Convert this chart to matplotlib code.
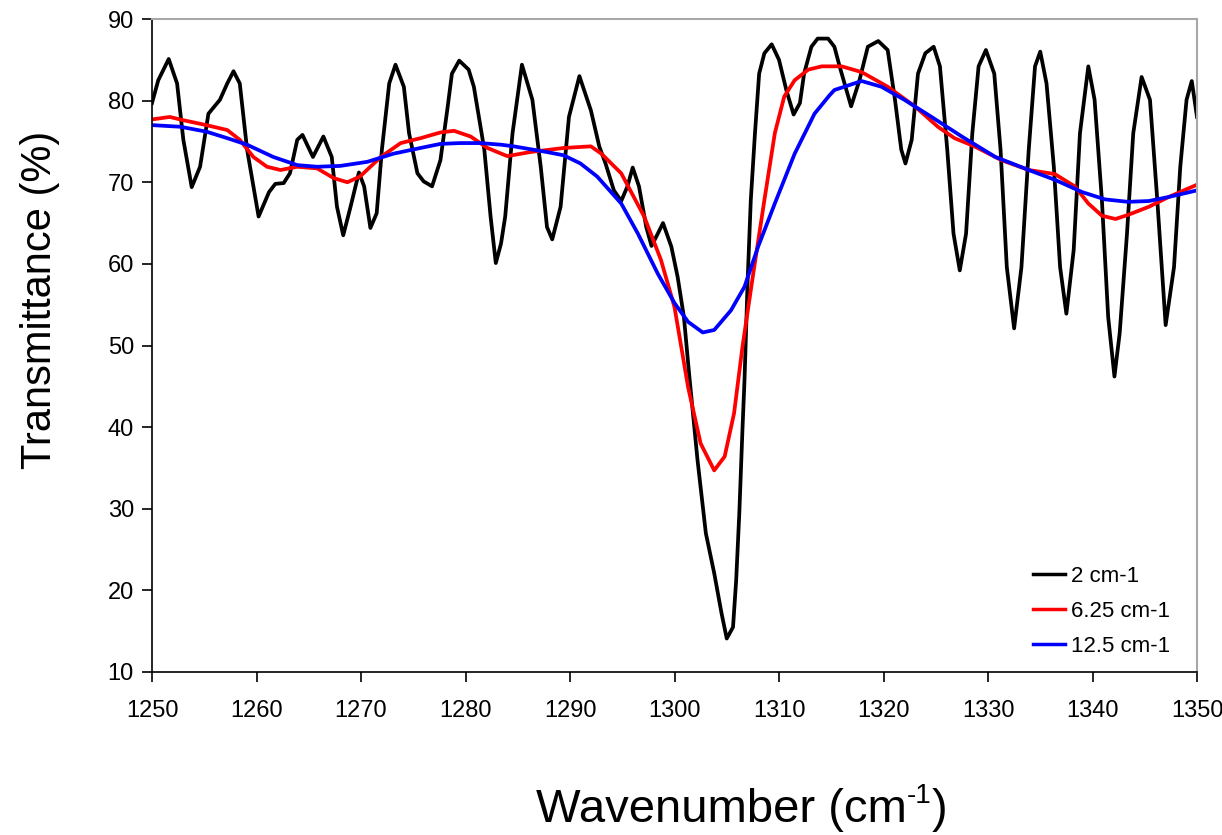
import matplotlib
matplotlib.use('Agg')
import matplotlib.pyplot as plt

plt.rcParams['font.family'] = ['Liberation Sans', 'DejaVu Sans']

# 2 cm-1 resolution spectrum
wn_2 = [1250.0, 1250.6, 1251.6, 1252.4, 1253.0, 1253.8, 1254.6, 1255.4, 1256.5, 1257.2,
        1257.8, 1258.4, 1259.1, 1260.2, 1261.2, 1261.8, 1262.6, 1263.2, 1263.9, 1264.4,
        1265.4, 1266.4, 1267.2, 1267.7, 1268.3, 1269.0, 1269.8, 1270.3, 1270.9, 1271.5,
        1272.0, 1272.7, 1273.3, 1274.1, 1274.6, 1275.4, 1276.0, 1276.8, 1277.6, 1278.3,
        1278.7, 1279.4, 1280.3, 1280.8, 1281.8, 1282.4, 1282.9, 1283.4, 1283.8, 1284.5,
        1285.4, 1286.4, 1287.2, 1287.8, 1288.3, 1289.1, 1289.9, 1290.9, 1292.0, 1292.8,
        1293.4, 1294.2, 1294.9, 1295.5, 1296.0, 1296.6, 1297.3, 1297.8, 1298.4, 1298.9,
        1299.7, 1300.3, 1300.9, 1301.4, 1302.2, 1303.0, 1303.8, 1304.5, 1305.0, 1305.6,
        1305.9, 1306.2, 1306.5, 1306.7, 1306.9, 1307.0, 1307.3, 1307.7, 1308.1, 1308.6,
        1309.3, 1310.0, 1310.7, 1311.4, 1312.0, 1312.4, 1313.1, 1313.7, 1314.7, 1315.3,
        1315.8, 1316.9, 1317.7, 1318.5, 1319.5, 1320.4, 1321.1, 1321.7, 1322.1, 1322.7,
        1323.3, 1324.0, 1324.8, 1325.4, 1326.1, 1326.7, 1327.3, 1327.9, 1328.5, 1329.1,
        1329.8, 1330.6, 1331.2, 1331.8, 1332.5, 1333.2, 1333.9, 1334.5, 1335.0, 1335.6,
        1336.3, 1336.9, 1337.5, 1338.2, 1338.8, 1339.6, 1340.2, 1340.9, 1341.5, 1342.1,
        1342.6, 1343.3, 1343.9, 1344.7, 1345.5, 1346.2, 1347.0, 1347.8, 1348.4, 1349.0,
        1349.5, 1350.0]
tr_2 = [79.7, 82.5, 85.1, 82.1, 75.2, 69.4, 71.9, 78.4, 80.1, 82.1,
        83.6, 82.1, 74.0, 65.8, 68.8, 69.8, 69.9, 71.1, 75.2, 75.8,
        73.1, 75.6, 73.1, 67.0, 63.5, 67.0, 71.2, 69.5, 64.4, 66.2,
        74.0, 82.1, 84.4, 81.7, 76.0, 71.1, 70.1, 69.5, 72.7, 79.3,
        83.3, 84.9, 83.8, 81.7, 74.0, 65.8, 60.1, 62.5, 65.8, 76.0,
        84.4, 80.1, 71.9, 64.5, 63.0, 67.0, 78.0, 83.0, 78.8, 74.4,
        72.3, 69.0, 67.7, 69.5, 71.8, 69.5, 64.5, 62.2, 63.7, 65.0,
        62.1, 58.4, 53.5, 46.5, 36.0, 27.0, 22.1, 17.2, 14.1, 15.5,
        21.2, 29.4, 39.6, 45.8, 53.9, 58.0, 67.8, 76.0, 83.3, 85.8,
        86.9, 85.0, 81.3, 78.3, 79.7, 83.3, 86.6, 87.6, 87.6, 86.6,
        84.2, 79.3, 82.5, 86.6, 87.3, 86.2, 80.1, 74.0, 72.3, 75.2,
        83.3, 85.8, 86.6, 84.2, 74.0, 63.7, 59.2, 63.7, 76.0, 84.2,
        86.2, 83.3, 74.0, 59.6, 52.1, 59.6, 74.0, 84.2, 86.0, 82.1,
        71.9, 59.6, 53.9, 61.7, 76.0, 84.2, 80.1, 67.8, 53.5, 46.2,
        51.5, 63.7, 76.0, 82.9, 80.1, 67.8, 52.5, 59.6, 71.9, 80.1,
        82.4, 78.0]

# 6.25 cm-1 resolution
wn_625 = [1250.0, 1251.7, 1253.0, 1255.2, 1257.2, 1258.4, 1259.7, 1261.0, 1262.3, 1263.9,
          1265.8, 1267.4, 1268.7, 1269.9, 1271.9, 1273.8, 1275.7, 1277.6, 1278.9, 1280.5,
          1282.1, 1284.0, 1286.2, 1289.4, 1292.0, 1293.0, 1294.9, 1297.1, 1298.7, 1300.0,
          1301.3, 1302.5, 1303.8, 1304.8, 1305.7, 1306.5, 1307.5, 1308.6, 1309.6, 1310.5,
          1311.5, 1312.8, 1314.1, 1316.0, 1317.9, 1320.4, 1323.0, 1325.2, 1326.8, 1328.7,
          1331.3, 1333.9, 1336.4, 1338.3, 1339.6, 1340.9, 1342.2, 1343.4, 1345.4, 1347.3,
          1350.0]
tr_625 = [77.7, 78.0, 77.6, 77.0, 76.4, 75.2, 73.1, 71.9, 71.5, 71.9,
          71.7, 70.5, 70.0, 70.7, 73.1, 74.8, 75.4, 76.1, 76.3, 75.6,
          74.2, 73.2, 73.7, 74.2, 74.4, 73.5, 71.1, 65.8, 60.5, 54.7,
          44.9, 38.0, 34.7, 36.4, 41.7, 49.8, 58.5, 67.8, 76.0, 80.5,
          82.5, 83.8, 84.2, 84.2, 83.5, 81.7, 79.3, 76.8, 75.4, 74.4,
          72.7, 71.5, 71.0, 69.5, 67.4, 65.9, 65.5, 66.0, 67.0, 68.2,
          69.7]

# 12.5 cm-1 resolution
wn_125 = [1250.0, 1252.7, 1255.2, 1257.2, 1259.1, 1261.6, 1263.9, 1265.8, 1268.0, 1270.6,
          1273.1, 1275.7, 1277.6, 1279.5, 1281.4, 1283.4, 1284.6, 1287.8, 1289.4, 1291.0,
          1292.6, 1294.9, 1296.5, 1298.4, 1300.0, 1301.3, 1302.7, 1303.8, 1305.4, 1306.7,
          1308.0, 1309.6, 1311.5, 1313.4, 1314.8, 1315.3, 1317.9, 1319.8, 1322.0, 1324.6,
          1327.5, 1330.7, 1333.9, 1336.4, 1339.0, 1341.2, 1343.4, 1345.4, 1347.3, 1350.0]
tr_125 = [77.0, 76.8, 76.2, 75.4, 74.6, 73.1, 72.1, 71.9, 72.0, 72.5,
          73.5, 74.2, 74.7, 74.8, 74.8, 74.6, 74.4, 73.7, 73.3, 72.3,
          70.7, 67.4, 63.7, 58.8, 55.2, 52.9, 51.6, 51.9, 54.3, 57.2,
          62.1, 67.4, 73.5, 78.4, 80.6, 81.3, 82.4, 81.7, 80.1, 78.0,
          75.6, 73.1, 71.5, 70.3, 68.8, 67.9, 67.6, 67.7, 68.2, 69.0]

labels = ['2 cm-1', '6.25 cm-1', '12.5 cm-1']
colors = ['black', '#ff0000', '#0000ff']

fig = plt.figure(figsize=(12.22, 8.35), dpi=100)
ax = fig.add_axes([152 / 1222, 1 - 672 / 835, (1197 - 152) / 1222, (672 - 19) / 835])

lw = 2.7
ax.plot(wn_2, tr_2, color=colors[0], lw=lw, label=labels[0], solid_joinstyle='round')
ax.plot(wn_625, tr_625, color=colors[1], lw=lw, label=labels[1], solid_joinstyle='round')
ax.plot(wn_125, tr_125, color=colors[2], lw=lw, label=labels[2], solid_joinstyle='round')

ax.set_xlim(1250, 1350)
ax.set_ylim(10, 90)
ax.set_xticks(range(1250, 1351, 10))
ax.set_yticks(range(10, 91, 10))
ax.tick_params(direction='out', length=7, width=1.2, labelsize=17)
ax.tick_params(axis='x', pad=13)
ax.tick_params(axis='y', pad=6)

for s in ['top', 'right']:
    ax.spines[s].set_color('#a8a8a8')
    ax.spines[s].set_linewidth(1.5)
for s in ['left', 'bottom']:
    ax.spines[s].set_color('black')
    ax.spines[s].set_linewidth(1.2)

leg = ax.legend(loc='upper left', bbox_to_anchor=(1033 / 1222, 1 - 566 / 835),
                bbox_transform=fig.transFigure, frameon=False, fontsize=16,
                handlelength=1.45, handletextpad=0.25, labelspacing=0.62,
                borderpad=0, borderaxespad=0)
for h in leg.get_lines():
    h.set_linewidth(2.5)

fig.text(40 / 1222, 1 - 300 / 835, 'Transmittance (%)', rotation=90,
         ha='center', va='center', fontsize=30)

# x label with a small raised "-1"
renderer = fig.canvas.get_renderer()
base_y = 1 - 822 / 835
t1 = fig.text(0, base_y, 'Wavenumber (cm', fontsize=34, va='baseline')
t2 = fig.text(0, 1 - 803 / 835, '-1', fontsize=20, va='baseline')
t3 = fig.text(0, base_y, ')', fontsize=34, va='baseline')
w1 = t1.get_window_extent(renderer).width
w2 = t2.get_window_extent(renderer).width
w3 = t3.get_window_extent(renderer).width
total = w1 + w2 + w3
x0 = 742 - total / 2
t1.set_x(x0 / 1222)
t2.set_x((x0 + w1) / 1222)
t3.set_x((x0 + w1 + w2) / 1222)

fig.savefig('out.png', dpi=100)
